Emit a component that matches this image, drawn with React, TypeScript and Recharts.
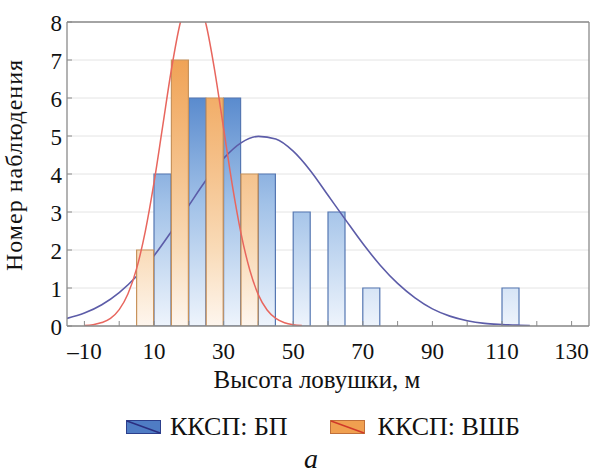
import React from 'react';
import { ComposedChart, Bar, Line, XAxis, YAxis, CartesianGrid, Legend } from 'recharts';

// ---- data ----
const binCenters = [10, 20, 30, 40, 50, 60, 70, 80, 90, 100, 110];
const countsBP = [4, 6, 6, 4, 3, 3, 1, 0, 0, 0, 1];
const countsVShB = [2, 7, 6, 4, 0, 0, 0, 0, 0, 0, 0];
const binWidth = 10;

const curveBPX = [-15, -10, -5, 0, 5, 10, 15, 20, 25, 30, 35, 40, 45, 50, 55, 60, 65, 70, 75, 80, 85, 90, 95, 100, 105, 110, 115, 118];
const curveBPY = [0.2, 0.34, 0.56, 0.88, 1.31, 1.85, 2.49, 3.17, 3.84, 4.41, 4.82, 4.99, 4.92, 4.6, 4.08, 3.44, 2.8, 2.17, 1.6, 1.12, 0.74, 0.45, 0.26, 0.14, 0.07, 0.04, 0.02, 0.01];

const curveVShBX = [-10, -7.5, -5, -2.5, 0, 2.5, 5, 7.5, 10, 12.5, 15, 17.5, 20, 22.5, 25, 27.5, 30, 32.5, 35, 37.5, 40, 42.5, 45, 47.5, 50, 52.5];
const curveVShBY = [0.01, 0.035, 0.09, 0.2, 0.43, 0.84, 1.51, 2.49, 3.77, 5.26, 6.75, 7.96, 8.64, 8.62, 7.92, 6.69, 5.2, 3.71, 2.44, 1.48, 0.82, 0.42, 0.2, 0.086, 0.034, 0.013];

const xTicks = [-10, 0, 10, 20, 30, 40, 50, 60, 70, 80, 90, 100, 110, 120, 130];
const xLabeledTicks = [-10, 10, 30, 50, 70, 90, 110, 130];
const yTicks = [0, 1, 2, 3, 4, 5, 6, 7, 8];
const xDomain: [number, number] = [-15, 135];
const yDomain: [number, number] = [0, 8];

const nameBP = 'ККСП: БП';
const nameVShB = 'ККСП: ВШБ';
const xTitle = 'Высота ловушки, м';
const yTitle = 'Номер наблюдения';
const caption = 'а';

// table for the bars: each bin split into a left (ВШБ) and right (БП) half
const barRows: { x: number; bp: number | null; vshb: number | null }[] = [];
binCenters.forEach((c, i) => {
  barRows.push({ x: c - binWidth / 4, bp: null, vshb: countsVShB[i] });
  barRows.push({ x: c + binWidth / 4, bp: countsBP[i], vshb: null });
});
const curveBP = curveBPX.map((x, i) => ({ x, y: curveBPY[i] }));
const curveVShB = curveVShBX.map((x, i) => ({ x, y: curveVShBY[i] }));

const FONT = "'Liberation Serif', 'Times New Roman', Times, 'DejaVu Serif', 'Liberation Sans', sans-serif";
const AXIS = '#8a8a8a';
const W = 593;
const H = 473;

const fmtX = (v: number) => (v < 0 ? '–' + Math.abs(v) : String(v));

const XTick = (props: any) => {
  const { x, y, payload } = props;
  const v = payload.value;
  if (!xLabeledTicks.includes(v)) return <g />;
  return (
    <text x={x} y={y + 34} textAnchor="middle" fontSize={23} style={{ fontFamily: FONT }} fill="#111">
      {fmtX(v)}
    </text>
  );
};

const YTick = (props: any) => {
  const { x, y, payload } = props;
  return (
    <text x={x} y={y + 9} textAnchor="end" fontSize={23} style={{ fontFamily: FONT }} fill="#111">
      {payload.value}
    </text>
  );
};

const XTitle = (props: any) => {
  const vb = props.viewBox;
  return (
    <text x={vb.x + vb.width / 2 - 11} y={vb.y + 62} textAnchor="middle" fontSize={25} style={{ fontFamily: FONT }} fill="#111">
      {xTitle}
    </text>
  );
};

const YTitle = (props: any) => {
  const vb = props.viewBox;
  const cx = vb.x + 22;
  const cy = vb.y + vb.height / 2 - 9;
  return (
    <text
      x={cx}
      y={cy}
      transform={`rotate(-90, ${cx}, ${cy})`}
      textAnchor="middle"
      fontSize={24}
      letterSpacing={1}
      style={{ fontFamily: FONT }}
      fill="#111"
    >
      {yTitle}
    </text>
  );
};

const Icon = ({ fill, border, diag }: { fill: string; border: string; diag: string }) => (
  <svg width={35} height={14} style={{ display: 'block' }}>
    <rect x={0.5} y={0.5} width={34} height={13} fill={fill} stroke={border} strokeWidth={1} />
    <line x1={1} y1={1} x2={34} y2={13} stroke={diag} strokeWidth={1.6} />
  </svg>
);

const LegendContent = () => (
  <div style={{ height: 84, position: 'relative', fontFamily: FONT, color: '#111' }}>
    <div
      style={{
        position: 'absolute',
        top: 24,
        left: 0,
        right: 0,
        height: 28,
        display: 'flex',
        justifyContent: 'center',
        alignItems: 'center',
        paddingLeft: 53,
        fontSize: 26,
        lineHeight: '28px',
      }}
    >
      <Icon fill="#4f7cc4" border="#2c3f8c" diag="#2b2e80" />
      <span style={{ marginLeft: 9 }}>{nameBP}</span>
      <span style={{ width: 42 }} />
      <Icon fill="#f0a050" border="#c0703a" diag="#d03a2a" />
      <span style={{ marginLeft: 13 }}>{nameVShB}</span>
    </div>
    <div
      style={{
        position: 'absolute',
        top: 56,
        left: 0,
        right: 0,
        textAlign: 'center',
        paddingLeft: 29,
        fontSize: 28,
        lineHeight: '28px',
        fontStyle: 'italic',
      }}
    >
      {caption}
    </div>
  </div>
);

export default function App() {
  return (
    <div style={{ position: 'absolute', left: 0, top: 0, width: W, height: H, fontFamily: FONT }}>
      <ComposedChart
        width={W}
        height={H}
        data={barRows}
        margin={{ top: 21, right: 0, bottom: 0, left: 0 }}
        barCategoryGap={0}
        barGap={0}
        style={{ fontFamily: FONT }}
      >
        <defs>
          <linearGradient id="gBP" x1="0" y1="22" x2="0" y2="326" gradientUnits="userSpaceOnUse">
            <stop offset="0" stopColor="#3d71bc" />
            <stop offset="0.25" stopColor="#5a8bce" />
            <stop offset="0.6" stopColor="#a2c2e8" />
            <stop offset="1" stopColor="#eef4fc" />
          </linearGradient>
          <linearGradient id="gVShB" x1="0" y1="22" x2="0" y2="326" gradientUnits="userSpaceOnUse">
            <stop offset="0" stopColor="#ee9843" />
            <stop offset="0.125" stopColor="#f0a356" />
            <stop offset="0.5" stopColor="#f5c38e" />
            <stop offset="0.75" stopColor="#f9dbb8" />
            <stop offset="1" stopColor="#fef6ee" />
          </linearGradient>
        </defs>
        <CartesianGrid vertical={false} stroke="#e4e4e4" strokeWidth={1} />
        <XAxis
          dataKey="x"
          type="number"
          domain={xDomain}
          allowDataOverflow
          ticks={xTicks}
          interval={0}
          height={63}
          tickSize={-5}
          tickMargin={4}
          tick={<XTick />}
          tickLine={{ stroke: AXIS }}
          axisLine={{ stroke: AXIS, strokeWidth: 1.3 }}
          label={<XTitle />}
        />
        <XAxis
          xAxisId="top"
          orientation="top"
          dataKey="x"
          type="number"
          domain={xDomain}
          allowDataOverflow
          ticks={xTicks}
          interval={0}
          height={1}
          tickSize={-5}
          tick={false}
          tickLine={{ stroke: AXIS }}
          axisLine={{ stroke: AXIS, strokeWidth: 1.3 }}
        />
        <YAxis
          type="number"
          domain={yDomain}
          allowDataOverflow
          ticks={yTicks}
          interval={0}
          width={67}
          tickSize={-5}
          tickMargin={10}
          tick={<YTick />}
          tickLine={{ stroke: AXIS }}
          axisLine={{ stroke: AXIS, strokeWidth: 1.3 }}
          label={<YTitle />}
        />
        <YAxis
          yAxisId="r"
          orientation="right"
          type="number"
          domain={yDomain}
          allowDataOverflow
          ticks={yTicks}
          interval={0}
          width={4}
          tickSize={-5}
          tick={false}
          tickLine={{ stroke: AXIS }}
          axisLine={{ stroke: AXIS, strokeWidth: 1.3 }}
        />
        <Legend verticalAlign="bottom" content={<LegendContent />} />
        <Bar
          dataKey="bp"
          name={nameBP}
          stackId="h"
          fill="url(#gBP)"
          stroke="#5577b2"
          strokeWidth={1.2}
          isAnimationActive={false}
          zIndex={300}
        />
        <Line
          xAxisId="top"
          data={curveBP}
          dataKey="y"
          type="monotone"
          stroke="#5c5ca8"
          strokeWidth={1.6}
          dot={false}
          activeDot={false}
          isAnimationActive={false}
          zIndex={310}
        />
        <Bar
          dataKey="vshb"
          name={nameVShB}
          stackId="h"
          fill="url(#gVShB)"
          stroke="#c8935c"
          strokeWidth={1.2}
          isAnimationActive={false}
          zIndex={320}
        />
        <Line
          xAxisId="top"
          data={curveVShB}
          dataKey="y"
          type="monotone"
          stroke="#e8665e"
          strokeWidth={1.5}
          dot={false}
          activeDot={false}
          isAnimationActive={false}
          zIndex={400}
        />
      </ComposedChart>
    </div>
  );
}
